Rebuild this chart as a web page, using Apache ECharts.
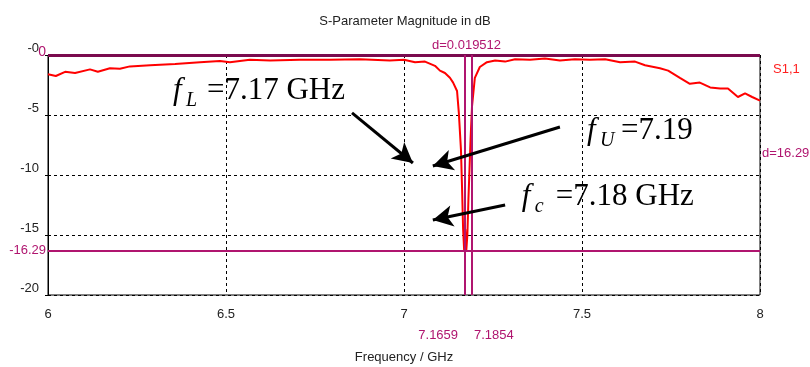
<!DOCTYPE html>
<html>
<head>
<meta charset="utf-8">
<script src="https://cdn.jsdelivr.net/npm/echarts@6/dist/echarts.min.js"></script>
<style>
    html, body {margin: 0; background: #fff;}
    #chart {width: 810px; height: 367px;}
</style>
</head>
<body>
<div id="chart"></div>
<script>
// S1,1 magnitude
const freqGHz = [6.000, 6.022, 6.048, 6.076, 6.118, 6.140, 6.174, 6.202, 6.230, 6.287,
    6.357, 6.427, 6.483, 6.511, 6.567, 6.624, 6.708, 6.792, 6.876, 6.960,
    7.000, 7.031, 7.059, 7.087, 7.101, 7.115, 7.129, 7.138, 7.149, 7.154,
    7.160, 7.163, 7.166, 7.169, 7.172, 7.175, 7.178, 7.181, 7.184, 7.187,
    7.191, 7.199, 7.213, 7.233, 7.256, 7.284, 7.312, 7.354, 7.396, 7.438,
    7.480, 7.522, 7.565, 7.607, 7.649, 7.677, 7.719, 7.742, 7.775, 7.803,
    7.831, 7.860, 7.888, 7.910, 7.938, 7.958, 7.978, 8.000];
const s11dB = [-1.6, -1.75, -1.4, -1.5, -1.2, -1.4, -1.1, -1.15, -0.95, -0.85,
    -0.75, -0.6, -0.5, -0.6, -0.4, -0.45, -0.4, -0.4, -0.35, -0.45,
    -0.4, -0.6, -0.55, -0.9, -1.3, -1.5, -1.9, -2.3, -3.0, -4.8,
    -7.9, -11, -14.5, -16.29, -14.5, -16.29, -15, -12, -9.5, -7,
    -4.3, -1.9, -1.0, -0.6, -0.45, -0.55, -0.35, -0.4, -0.3, -0.45,
    -0.35, -0.4, -0.35, -0.6, -0.55, -0.85, -1.1, -1.3, -1.9, -2.4,
    -2.3, -2.7, -2.8, -2.8, -3.5, -3.2, -3.5, -3.8];

// markers
const markerFreqs = [7.1659, 7.1854];
const markerLevels = [0, -16.29];
const freqDelta = 'd=0.019512';
const levelDelta = 'd=16.29';

// annotations: [freq, dB] of text baseline start, subscript, text
const annoLabels = [
    {at: [6.351, -3.75], sub: 'L', text: '=7.17 GHz'},
    {at: [7.514, -7.08], sub: 'U', text: '=7.19'},
    {at: [7.331, -12.58], sub: 'c', text: '=7.18 GHz'}
];
// arrows: [tail, tip]
const annoArrows = [
    [[6.854, -4.83], [7.025, -9.0]],
    [[7.438, -6.0], [7.081, -9.25]],
    [[7.284, -12.5], [7.081, -13.75]]
];

const MAGENTA = '#b0156f';
const FONT = 'Liberation Sans';

let chart = echarts.init(document.getElementById('chart'));

chart.setOption({
    animation: false,
    title: {
        text: 'S-Parameter Magnitude in dB',
        left: 'center',
        top: 10,
        textStyle: {fontFamily: FONT, fontSize: 13, fontWeight: 'normal', color: '#222'}
    },
    grid: {
        left: 48, right: 50, top: 55, bottom: 72,
        outerBoundsMode: 'none',
        containLabel: false,
        show: true, borderColor: '#000', borderWidth: 1
    },
    xAxis: {
        type: 'value',
        min: 6, max: 8, interval: 0.5,
        name: 'Frequency / GHz',
        nameLocation: 'middle',
        nameGap: 56,
        nameTextStyle: {fontFamily: FONT, fontSize: 13, color: '#222'},
        axisLine: {lineStyle: {color: '#000', width: 1}},
        axisTick: {show: true, length: 8, lineStyle: {color: '#000', type: [3, 3]}},
        axisLabel: {fontFamily: FONT, fontSize: 13, color: '#222', margin: 13},
        splitLine: {lineStyle: {color: '#000', type: [3, 3], width: 1}}
    },
    yAxis: {
        type: 'value',
        min: -20, max: 0, interval: 5,
        axisLine: {show: true, lineStyle: {color: '#000', width: 1}},
        axisTick: {show: true, length: 6, lineStyle: {color: '#000', type: [3, 3]}},
        axisLabel: {
            fontFamily: FONT, fontSize: 13, color: '#222', margin: 9,
            verticalAlign: 'bottom',
            formatter: function (v) {
                return v === 0 ? '-0' : String(v);
            }
        },
        splitLine: {lineStyle: {color: '#000', type: [3, 3], width: 1}}
    },
    series: [
        {
            name: 'S1,1',
            type: 'line',
            showSymbol: false,
            lineStyle: {color: '#ff0000', width: 2},
            data: freqGHz.map(function (f, i) {
                return [f, s11dB[i]];
            }),
            markLine: {
                silent: true,
                symbol: 'none',
                label: {show: false},
                data: [
                    {yAxis: markerLevels[0], lineStyle: {color: '#7a0a4e', width: 3, type: 'solid'}},
                    {yAxis: markerLevels[1], lineStyle: {color: MAGENTA, width: 2, type: 'solid'}},
                    {xAxis: markerFreqs[0], lineStyle: {color: MAGENTA, width: 2, type: 'solid'}},
                    {xAxis: markerFreqs[1], lineStyle: {color: MAGENTA, width: 2, type: 'solid'}}
                ]
            }
        },
        {
            name: 'arrows',
            type: 'line',
            data: [],
            markLine: {
                silent: true,
                symbol: ['none', 'arrow'],
                symbolSize: [16, 20],
                label: {show: false},
                lineStyle: {color: '#000', width: 3, type: 'solid'},
                data: annoArrows.map(function (a) {
                    return [{coord: a[0]}, {coord: a[1]}];
                })
            }
        }
    ]
});

// extra texts placed through the chart's own scales
function px(f, db) {
    return chart.convertToPixel({gridIndex: 0}, [f, db]);
}

let graphics = [];
function addText(pos, text, color, align, vAlign, size) {
    graphics.push({
        type: 'text', x: pos[0], y: pos[1], silent: true,
        style: {
            text: text, fill: color, align: align, verticalAlign: vAlign,
            font: (size || 13) + 'px "' + FONT + '"'
        }
    });
}

let pTop = px(6, markerLevels[0]);
addText([pTop[0] - 2, pTop[1] - 3], '0', MAGENTA, 'right', 'middle', 14);
let pLow = px(6, markerLevels[1]);
addText([pLow[0] - 2, pLow[1]], '-16.29', MAGENTA, 'right', 'middle', 13);
let pRight = px(8, -8.2);
addText([pRight[0] + 2, pRight[1]], levelDelta, MAGENTA, 'left', 'middle', 13);
let pS = px(8, -1.1);
addText([pS[0] + 13, pS[1] + 1], 'S1,1', '#ff2020', 'left', 'middle', 13);
let pM1 = px(markerFreqs[0], -20);
let pM2 = px(markerFreqs[1], -20);
addText([pM1[0] - 5, pM1[1] + 40], String(markerFreqs[0]), MAGENTA, 'right', 'middle', 13);
addText([pM2[0] + 4, pM2[1] + 40], String(markerFreqs[1]), MAGENTA, 'left', 'middle', 13);
let pD = px((markerFreqs[0] + markerFreqs[1]) / 2, 0);
addText([pD[0], pD[1] - 10], freqDelta, MAGENTA, 'center', 'middle', 13);

// f_x = value annotations, Times-like serif
const SERIF = '"Liberation Serif"';
annoLabels.forEach(function (a) {
    let p = px(a.at[0], a.at[1]);
    graphics.push({
        type: 'text', x: p[0], y: p[1] - 9, silent: true,
        style: {text: 'f', fill: '#000', verticalAlign: 'middle', font: 'italic 31px ' + SERIF}
    });
    graphics.push({
        type: 'text', x: p[0] + 13, y: p[1] + 1, silent: true,
        style: {text: a.sub, fill: '#000', verticalAlign: 'middle', font: 'italic 20px ' + SERIF}
    });
    graphics.push({
        type: 'text', x: p[0] + 34, y: p[1] - 9, silent: true,
        style: {text: a.text, fill: '#000', verticalAlign: 'middle', font: '31px ' + SERIF}
    });
});

chart.setOption({graphic: graphics});
</script>
</body>
</html>
